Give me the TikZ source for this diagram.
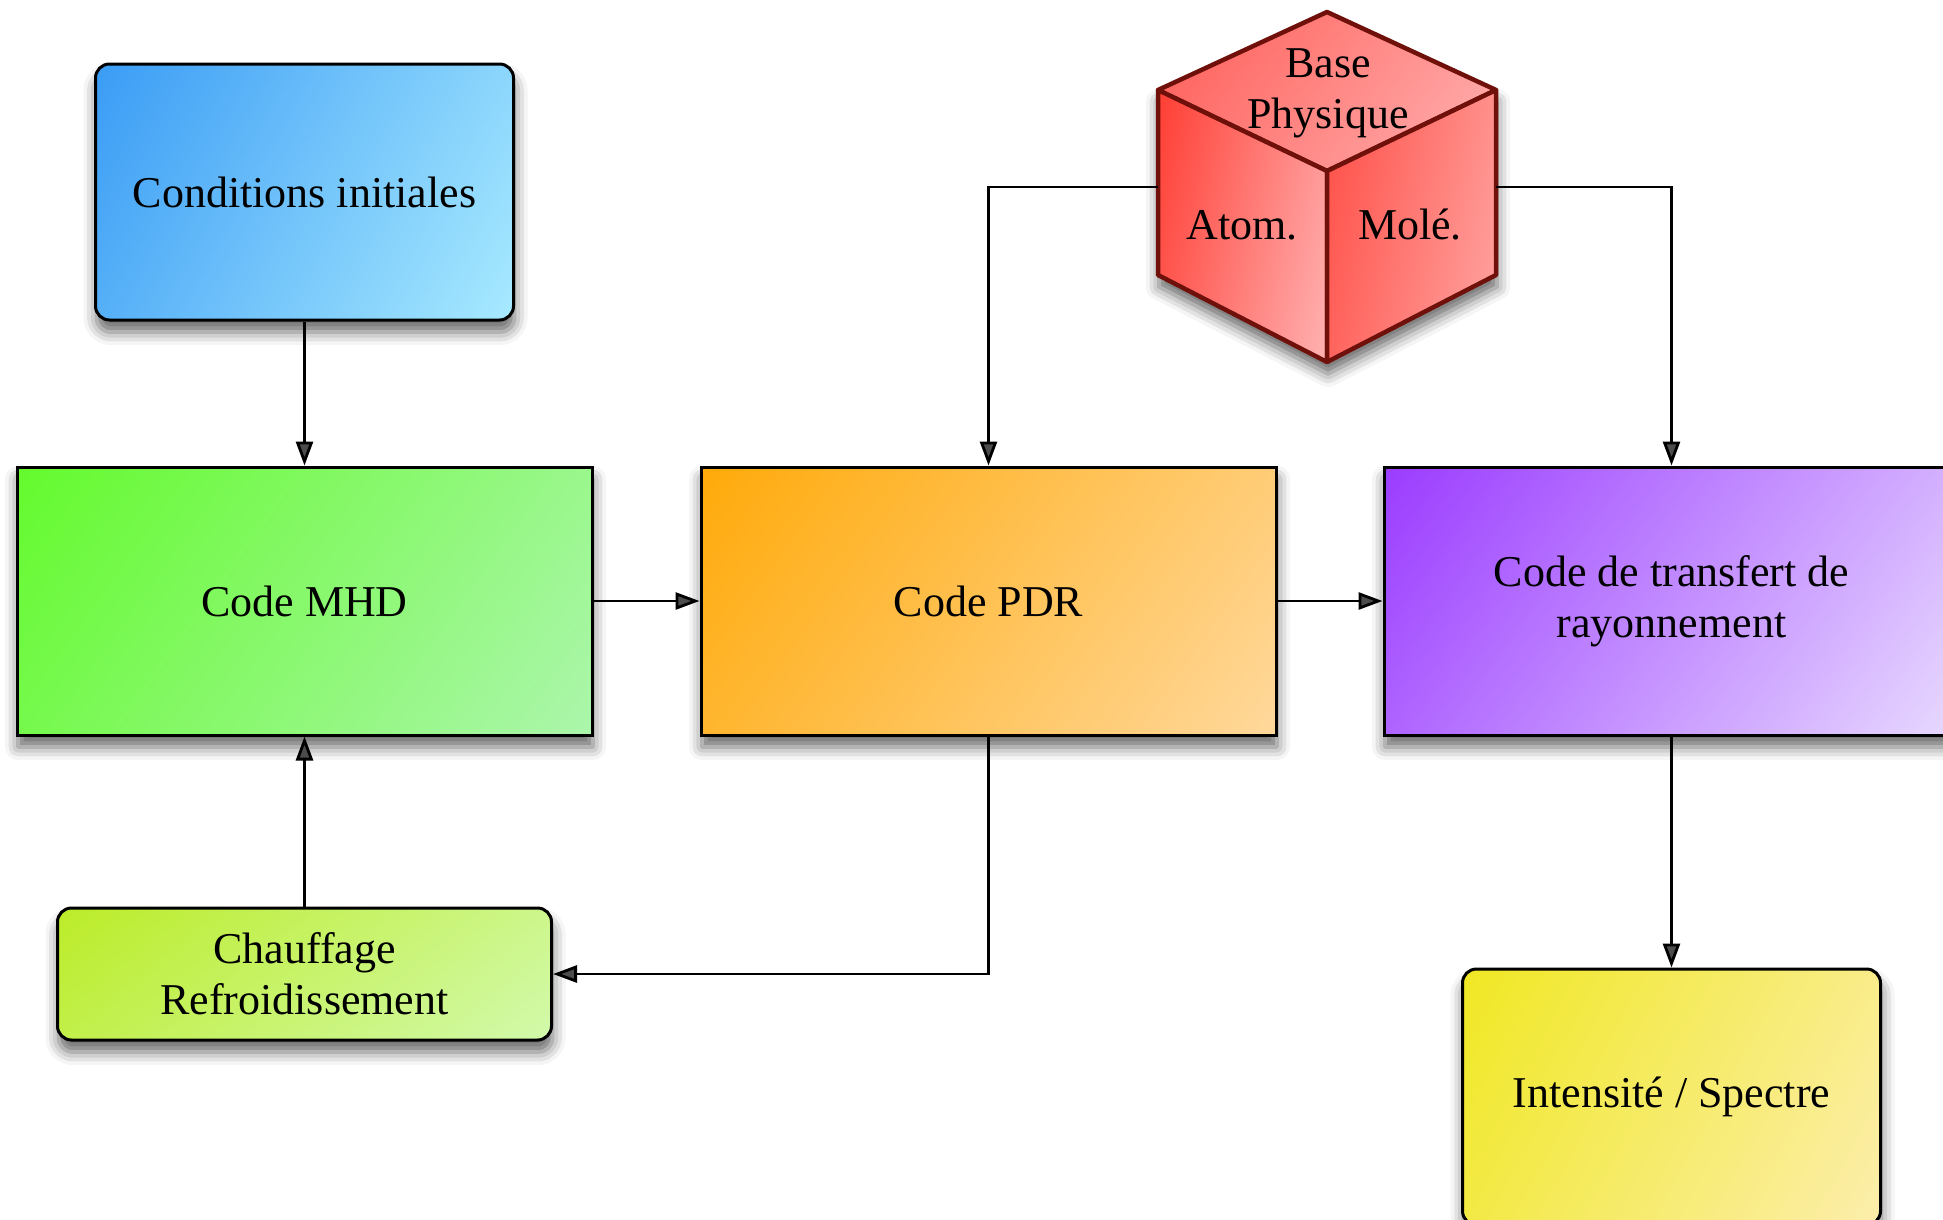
\documentclass[tikz,border=0pt]{standalone}
\usepackage{fontspec}
\setmainfont{Liberation Serif}
\usetikzlibrary{positioning, arrows.meta, shadows.blur, shadings}

\definecolor{condA}{RGB}{58,156,245}
\definecolor{condB}{RGB}{168,234,255}
\definecolor{mhdA}{RGB}{100,250,45}
\definecolor{mhdB}{RGB}{172,246,172}
\definecolor{pdrA}{RGB}{255,170,10}
\definecolor{pdrB}{RGB}{255,216,155}
\definecolor{rtA}{RGB}{155,60,255}
\definecolor{rtB}{RGB}{232,218,255}
\definecolor{chaufA}{RGB}{188,236,40}
\definecolor{chaufB}{RGB}{210,250,172}
\definecolor{intA}{RGB}{240,232,35}
\definecolor{intB}{RGB}{252,238,172}
\definecolor{cubeA}{RGB}{255,62,52}
\definecolor{cubeB}{RGB}{255,178,178}
\definecolor{topA}{RGB}{255,92,86}
\definecolor{rightA}{RGB}{255,78,70}
\definecolor{rightB}{RGB}{255,165,162}
\definecolor{cubeline}{RGB}{112,16,10}

\begin{document}
\begin{tikzpicture}[
  x=1pt, y=-1pt,
  font=\fontsize{44}{51}\selectfont,
  grad/.style 2 args={shade, upper left=#1, lower right=#2,
    upper right=#2!75!#1, lower left=#1!75!#2},
  drop/.style={blur shadow={shadow xshift=1pt, shadow yshift=-12pt,
    shadow blur radius=13pt, shadow opacity=60}},
  box/.style={draw=black, line width=3pt, minimum width=575pt,
    minimum height=268pt, align=center, inner sep=0pt, drop},
  rbox/.style={box, rounded corners=14pt},
  face/.style={draw=cubeline, line width=4.5pt, line join=round},
  link/.style={-{Triangle[length=24pt, width=17pt]}, line width=2.8pt},
]
  \clip (0,0) rectangle (1943,1219);

  % Main chain of codes
  \node[box, grad={mhdA}{mhdB}] (mhd) at (304.5,601) {Code MHD};
  \node[box, grad={pdrA}{pdrB}, right=106pt of mhd] (pdr) {Code PDR};
  \node[box, grad={rtA}{rtB}, right=105pt of pdr] (rt)
    {Code de transfert de\\rayonnement};

  % Input, feedback and output boxes
  \node[rbox, grad={condA}{condB}, minimum width=418pt, minimum height=256pt,
    above=144pt of mhd] (cond) {Conditions initiales};
  \node[rbox, grad={chaufA}{chaufB}, minimum width=494pt, minimum height=132pt,
    below=170pt of mhd] (chauf) {Chauffage\\Refroidissement};
  \node[rbox, grad={intA}{intB}, minimum width=418pt, minimum height=256pt,
    below=231pt of rt] (intens) {Intensité / Spectre};

  % Physics database cube
  \coordinate (cT) at (1327,12);
  \coordinate (cL) at (1158,90);
  \coordinate (cR) at (1496,90);
  \coordinate (cC) at (1327,171);
  \coordinate (cBL) at (1158,275);
  \coordinate (cBR) at (1496,275);
  \coordinate (cB) at (1327,362);
  \coordinate (cW) at (1158,187);
  \coordinate (cE) at (1496,187);
  \path[fill=white, drop] (cT) -- (cR) -- (cBR) -- (cB) -- (cBL) -- (cL) -- cycle;
  \draw[face, grad={topA}{cubeB}] (cT) -- (cR) -- (cC) -- (cL) -- cycle;
  \draw[face, grad={cubeA}{cubeB}] (cL) -- (cC) -- (cB) -- (cBL) -- cycle;
  \draw[face, grad={rightA}{rightB}] (cC) -- (cR) -- (cBR) -- (cB) -- cycle;
  \node[align=center] (base) at (1328,93) {Base\\Physique};
  \node (atom) at (1242,225) {Atom.};
  \node (mole) at (1410,225) {Molé.};

  % Connectors
  \draw[link] (cond) -- (mhd);
  \draw[link] (chauf) -- (mhd);
  \draw[link] (mhd) -- (pdr);
  \draw[link] (pdr) -- (rt);
  \draw[link] (rt) -- (intens);
  \draw[link] (cW) -| (pdr.north);
  \draw[link] (cE) -| (rt.north);
  \draw[link] (pdr.south) |- (chauf.east);
\end{tikzpicture}
\end{document}
